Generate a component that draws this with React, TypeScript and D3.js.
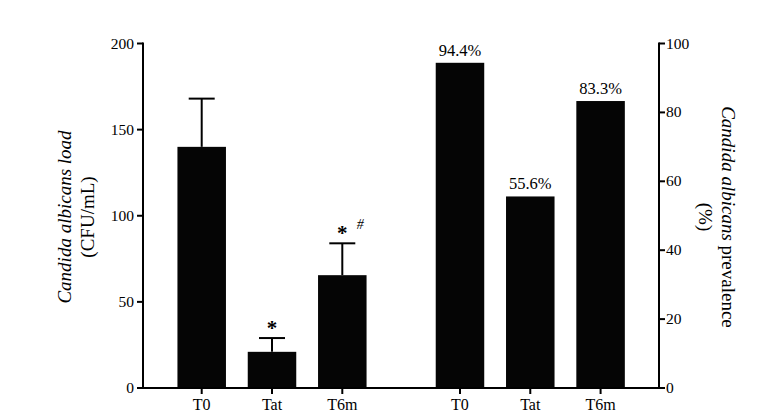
import React from "react";
import * as d3 from "d3";

const categories = ["T0", "Tat", "T6m"];
const loadValues = [140, 21, 65.5];
const loadErrors = [168, 29, 84];
const loadMarks = ["", "*", "*"];
const loadHash = ["", "", "#"];
const prevalenceValues = [94.4, 55.6, 83.3];
const prevalenceLabels = ["94.4%", "55.6%", "83.3%"];
const loadTicks = [0, 50, 100, 150, 200];
const prevalenceTicks = [0, 20, 40, 60, 80, 100];

const W = 771;
const H = 420;
const FONT = "'Liberation Serif', 'Times New Roman', serif";

export default function App() {
  const x = d3.scaleLinear().domain([-0.835, 6.505]).range([143, 659]);
  const yL = d3.scaleLinear().domain([0, 200]).range([388, 43.5]);
  const yR = d3.scaleLinear().domain([0, 100]).range([388, 43.5]);
  const groupOffset = 3.674;
  const barW = x(0.69) - x(0);
  const capW = 26;
  const y0 = yL(0);

  return (
    <svg width={W} height={H} style={{ position: "absolute", left: 0, top: 0, background: "#fff" }} fontFamily={FONT}>
      {/* left bars */}
      {categories.map((c, i) => {
        const cx = x(i);
        return (
          <g key={"l" + c}>
            <line x1={cx} x2={cx} y1={yL(loadValues[i])} y2={yL(loadErrors[i])} stroke="#000" strokeWidth={2} />
            <line x1={cx - capW / 2} x2={cx + capW / 2} y1={yL(loadErrors[i])} y2={yL(loadErrors[i])} stroke="#000" strokeWidth={2} />
            <rect x={cx - barW / 2} y={yL(loadValues[i])} width={barW} height={y0 - yL(loadValues[i])} fill="#050505" />
            {loadMarks[i] && (
              <text x={cx} y={yL(loadErrors[i]) - 3} textAnchor="middle" fontSize={21} fontWeight="bold" fill="#000">
                {loadMarks[i]}
              </text>
            )}
            {loadHash[i] && (
              <text x={cx + 18} y={yL(loadErrors[i]) - 14} textAnchor="middle" fontSize={14} fontStyle="italic" fill="#000">
                {loadHash[i]}
              </text>
            )}
          </g>
        );
      })}
      {/* right bars */}
      {categories.map((c, i) => {
        const cx = x(i + groupOffset);
        return (
          <g key={"r" + c}>
            <rect x={cx - barW / 2} y={yR(prevalenceValues[i])} width={barW} height={y0 - yR(prevalenceValues[i])} fill="#050505" />
            <text x={cx} y={yR(prevalenceValues[i]) - 7} textAnchor="middle" fontSize={16.5} fill="#000">
              {prevalenceLabels[i]}
            </text>
          </g>
        );
      })}
      {/* x axis */}
      <line x1={143} x2={659} y1={y0} y2={y0} stroke="#000" strokeWidth={2} />
      {[0, 1, 2].flatMap((i) => [i, i + groupOffset]).map((v, k) => (
        <g key={"xt" + k}>
          <line x1={x(v)} x2={x(v)} y1={y0} y2={y0 + 6} stroke="#000" strokeWidth={2} />
          <text x={x(v)} y={410} textAnchor="middle" fontSize={16} fill="#000">
            {categories[k % 2 === 0 ? k / 2 : (k - 1) / 2]}
          </text>
        </g>
      ))}
      {/* left axis */}
      <line x1={143} x2={143} y1={yL(200) - 1} y2={y0 + 1} stroke="#000" strokeWidth={2} />
      {loadTicks.map((t) => (
        <g key={"lt" + t}>
          <line x1={137} x2={143} y1={yL(t)} y2={yL(t)} stroke="#000" strokeWidth={2} />
          <text x={134} y={yL(t) + 5} textAnchor="end" fontSize={15.5} fill="#000">
            {t}
          </text>
        </g>
      ))}
      {/* right axis */}
      <line x1={659} x2={659} y1={yR(100) - 1} y2={y0 + 1} stroke="#000" strokeWidth={2} />
      {prevalenceTicks.map((t) => (
        <g key={"rt" + t}>
          <line x1={659} x2={665} y1={yR(t)} y2={yR(t)} stroke="#000" strokeWidth={2} />
          <text x={666} y={yR(t) + 5} textAnchor="start" fontSize={15.5} fill="#000">
            {t}
          </text>
        </g>
      ))}
      {/* left title */}
      <g transform="translate(71,217) rotate(-90)">
        <text x={0} y={0} textAnchor="middle" fontSize={19} fontStyle="italic" fill="#000">
          Candida albicans load
        </text>
        <text x={0} y={23} textAnchor="middle" fontSize={19} fill="#000">
          (CFU/mL)
        </text>
      </g>
      {/* right title */}
      <g transform="translate(722,217) rotate(90)">
        <text x={0} y={0} textAnchor="middle" fontSize={19} fill="#000">
          <tspan fontStyle="italic">Candida albicans</tspan> prevalence
        </text>
        <text x={0} y={23} textAnchor="middle" fontSize={19} fill="#000">
          (%)
        </text>
      </g>
    </svg>
  );
}
